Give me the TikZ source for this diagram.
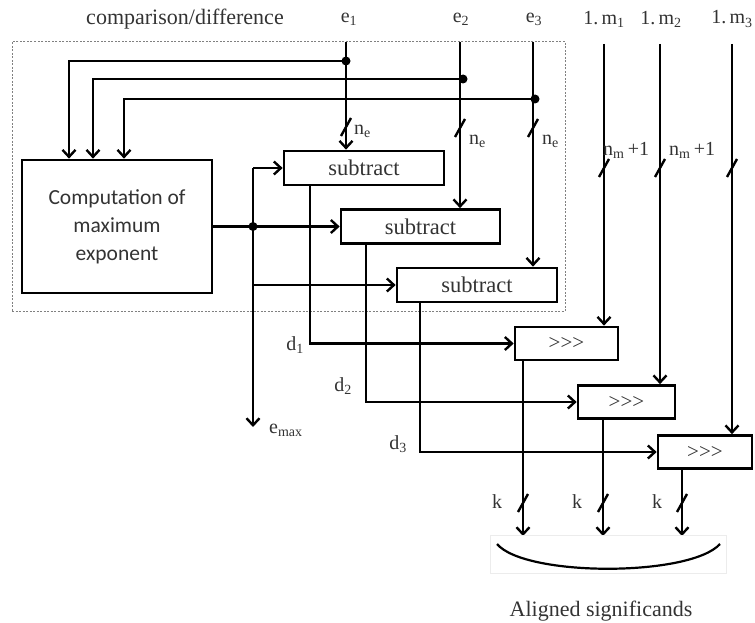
\documentclass[tikz,border=0pt]{standalone}
\usepackage{fontspec}
\setmainfont{Liberation Serif}
\newfontfamily\boxsans{Carlito}
\usetikzlibrary{arrows.meta,calc}
\definecolor{txt}{HTML}{333333}
\newcommand{\shr}{>\kern0pt>\kern0pt>}
\tikzset{
  wire/.style={line width=2.7pt, black},
  arr/.style={wire, -{Straight Barb[length=7pt,width=13pt,line width=2.4pt]}},
  blk/.style={draw, line width=2.7pt, rectangle, inner sep=0pt, text=txt},
  lbl/.style={text=txt, font=\fontsize{20}{22}\selectfont, inner sep=1pt},
  slashmk/.style={line width=2.4pt, black},
  jdot/.style={circle, fill=black, inner sep=0pt, minimum size=9pt},
}
\newcommand{\busmark}[1]{\draw[slashmk] ($(#1)+(-5,9)$) -- ($(#1)+(5,-9)$);}
\begin{document}
\begin{tikzpicture}[x=1pt,y=-1pt]
\useasboundingbox (0,0) rectangle (755,623);
% dashed frame
\node[draw=gray, dash pattern=on 2pt off 1.5pt, line width=1pt, minimum width=553pt, minimum height=269pt, inner sep=0pt] (frame) at (288.5,176.5) {};
\node[lbl, font=\fontsize{22}{24}\selectfont] (title) at (185,19) {comparison/difference};
% boxes
\node[blk, minimum width=190pt, minimum height=133pt, align=center, font=\boxsans\fontsize{21.5}{28}\selectfont] (comp) at (117,226.5) {Computation of\\maximum\\exponent};
\node[blk, minimum width=160pt, minimum height=34pt, font=\fontsize{22.5}{24}\selectfont] (s1) at (364,168) {subtract};
\node[blk, minimum width=159pt, minimum height=34pt, font=\fontsize{22.5}{24}\selectfont] (s2) at (420.5,226.5) {subtract};
\node[blk, minimum width=160pt, minimum height=34pt, font=\fontsize{22.5}{24}\selectfont] (s3) at (477,285) {subtract};
\node[blk, minimum width=103pt, minimum height=33pt, font=\fontsize{21}{23}\selectfont] (r1) at (566.5,343.5) {\shr};
\node[blk, minimum width=97pt, minimum height=33pt, font=\fontsize{21}{23}\selectfont] (r2) at (626.5,402) {\shr};
\node[blk, minimum width=94pt, minimum height=33pt, font=\fontsize{21}{23}\selectfont] (r3) at (705,452) {\shr};
% input labels
\node[lbl] (e1) at (349,19) {e\textsubscript{1}};
\node[lbl] (e2) at (461,19) {e\textsubscript{2}};
\node[lbl] (e3) at (534,19) {e\textsubscript{3}};
\node[lbl] (m1) at (604,19) {1.\,m\textsubscript{1}};
\node[lbl] (m2) at (661,19) {1.\,m\textsubscript{2}};
\node[lbl] (m3) at (732,19) {1.\,m\textsubscript{3}};
% coordinates
\coordinate (e1t) at (346,42);
\coordinate (e2t) at (460,42);
\coordinate (e3t) at (533,42);
\coordinate (j1) at (346,61);
\coordinate (j2) at (463,79);
\coordinate (j3) at (535,99);
\coordinate (m1t) at (604,44);
\coordinate (m2t) at (660,44);
\coordinate (m3t) at (732,44);
% e inputs into subtractors
\draw[arr] (e1t) -- (s1.north -| e1t);
\draw[arr] (e2t) -- (s2.north -| e2t);
\draw[arr] (e3t) -- (s3.north -| e3t);
% feedback to max computation
\draw[arr] (j1) -- (69,61) -- (comp.north -| 69,0);
\draw[arr] (j2) -- (93,79) -- (comp.north -| 93,0);
\draw[arr] (j3) -- (124,99) -- (comp.north -| 124,0);
\node[jdot] (dj1) at (j1) {};
\node[jdot] (dj2) at (j2) {};
\node[jdot] (dj3) at (j3) {};
% bus marks n_e
\busmark{346,127}
\busmark{460,128}
\busmark{533,128}
\node[lbl, anchor=west] (ne1) at (353,131) {n\textsubscript{e}};
\node[lbl, anchor=west] (ne2) at (468,141) {n\textsubscript{e}};
\node[lbl, anchor=west] (ne3) at (541,141) {n\textsubscript{e}};
% max output distribution
\coordinate (jm) at (253,226.5);
\draw[wire] (comp.east) -- (jm);
\draw[arr] (jm) -- (s2.west);
\draw[arr] (253,168) -- (s1.west);
\draw[arr] (253,285) -- (s3.west);
\draw[arr] (253,168) -- (253,427);
\node[jdot] (djm) at (jm) {};
\node[lbl, anchor=west] (emax) at (268,430) {e\textsubscript{max}};
% differences to shifters
\draw[arr] (s1.south -| 310,0) -- (310,343.5) -- (r1.west);
\draw[arr] (s2.south -| 366,0) -- (366,402) -- (r2.west);
\draw[arr] (s3.south -| 420,0) -- (420,452) -- (r3.west);
\node[lbl] (d1) at (295,345) {d\textsubscript{1}};
\node[lbl] (d2) at (343,386) {d\textsubscript{2}};
\node[lbl] (d3) at (398,444) {d\textsubscript{3}};
% mantissas
\draw[arr] (m1t) -- (r1.north -| m1t);
\draw[arr] (m2t) -- (r2.north -| m2t);
\draw[arr] (m3t) -- (r3.north -| m3t);
\busmark{604,168}
\busmark{660,168}
\busmark{732,168}
\node[lbl, anchor=west] (nm1) at (602,150) {n\textsubscript{m}\,+1};
\node[lbl, anchor=west] (nm2) at (668,150) {n\textsubscript{m}\,+1};
% outputs
\coordinate (o1) at (523,536);
\coordinate (o2) at (603,536);
\coordinate (o3) at (682,536);
\draw[arr] (r1.south -| o1) -- (o1);
\draw[arr] (r2.south -| o2) -- (o2);
\draw[arr] (r3.south -| o3) -- (o3);
\busmark{523,503}
\busmark{603,503}
\busmark{682,503}
\node[lbl] (k1) at (497,502) {k};
\node[lbl] (k2) at (577,502) {k};
\node[lbl] (k3) at (657,502) {k};
% collector
\node[draw=gray!15, line width=0.6pt, minimum width=236pt, minimum height=38pt, inner sep=0pt] (cbox) at (608,554) {};
\draw[line width=2.2pt] (497,544) .. controls (525,577) and (690,577) .. (720,544);
\node[lbl, font=\fontsize{22}{24}\selectfont] (aligned) at (601,611) {Aligned significands};
\end{tikzpicture}
\end{document}
